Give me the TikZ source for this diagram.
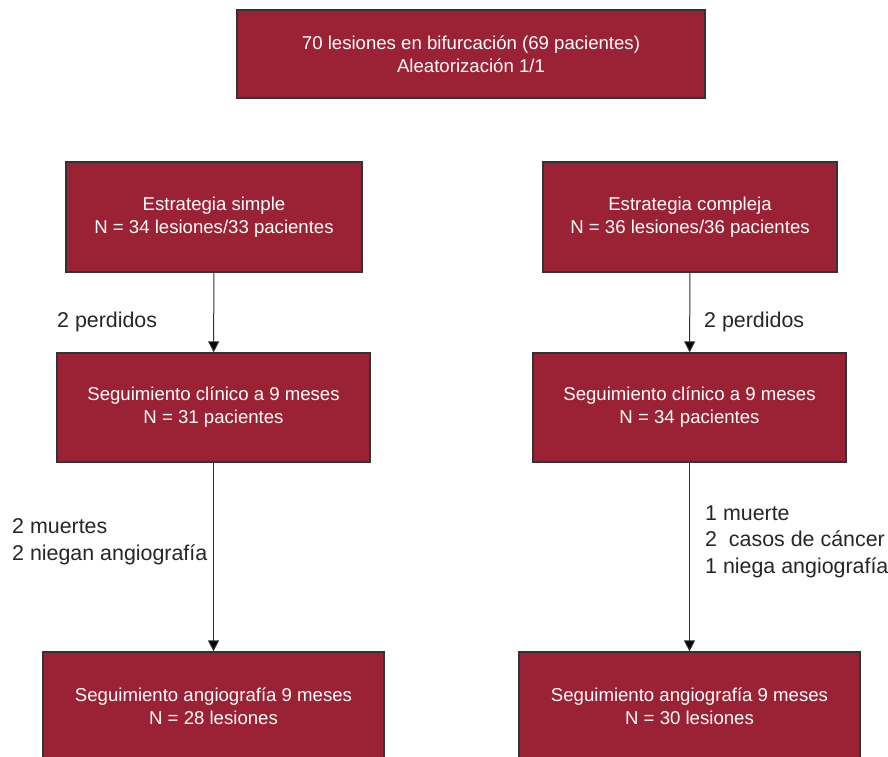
\documentclass[tikz,border=0pt]{standalone}
\usepackage{fontspec}
\setmainfont{Liberation Sans}
\usetikzlibrary{arrows.meta}
\definecolor{boxred}{HTML}{9B2235}
\definecolor{edgegray}{HTML}{333333}
\begin{document}
\begin{tikzpicture}[x=1pt,y=-1pt,
    box/.style={shape=rectangle,draw=edgegray,line width=1.2pt,fill=boxred,
        text=white,align=center,inner sep=0pt,
        font=\fontsize{18.6}{23}\selectfont},
    lbl/.style={anchor=west,align=left,inner sep=0pt,text=black!85,
        font=\fontsize{21.4}{26.5}\selectfont},
    arr/.style={draw=edgegray,line width=1pt,-{Triangle[length=11pt,width=11pt]}}]
            \useasboundingbox (0,0) rectangle (888,756);
            \node[box,minimum width=468pt,minimum height=88pt] (T) at (471, 54) {70 lesiones en bifurcación (69 pacientes)\\Aleatorización 1/1};
            \node[box,minimum width=296pt,minimum height=110pt] (S1) at (214, 217) {Estrategia simple\\N = 34 lesiones/33 pacientes};
            \node[box,minimum width=294pt,minimum height=110pt] (C1) at (690, 217) {Estrategia compleja\\N = 36 lesiones/36 pacientes};
            \node[box,minimum width=313pt,minimum height=109pt] (S2) at (213.5, 407.5) {Seguimiento clínico a 9 meses\\N = 31 pacientes};
            \node[box,minimum width=313pt,minimum height=109pt] (C2) at (689.5, 407.5) {Seguimiento clínico a 9 meses\\N = 34 pacientes};
            \node[box,minimum width=341pt,minimum height=108pt] (S3) at (213.5, 706) {Seguimiento angiografía 9 meses\\N = 28 lesiones};
            \node[box,minimum width=341pt,minimum height=108pt] (C3) at (689.5, 706) {Seguimiento angiografía 9 meses\\N = 30 lesiones};

            \node[lbl] (LS1) at (57, 322) {2 perdidos};
            \node[lbl] (LC1) at (704, 322) {2 perdidos};
            \node[lbl] (LS2) at (12, 541.5) {2 muertes\\2 niegan angiografía};
            \node[lbl] (LC2) at (705, 541.5) {1 muerte\\2\ \ casos de cáncer\\1 niega angiografía};

            \path[arr] (S1) edge node {} (S2);
            \path[arr] (C1) edge node {} (C2);
            \path[arr] (S2) edge node {} (S3);
            \path[arr] (C2) edge node {} (C3);
        \end{tikzpicture}
\end{document}
